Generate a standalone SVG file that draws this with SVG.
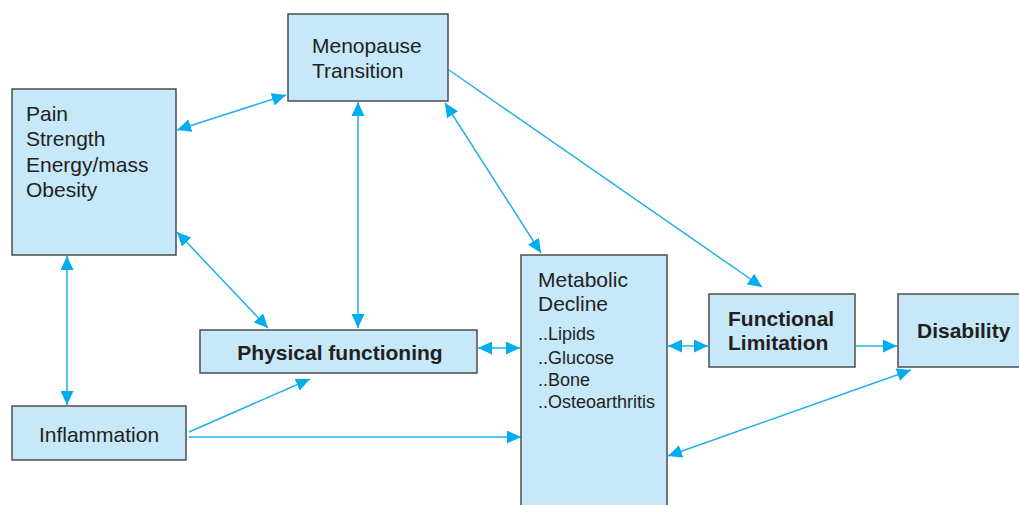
<svg xmlns="http://www.w3.org/2000/svg" width="1019" height="505" viewBox="0 0 1019 505">
<style>
.box{fill:#c6e8f8;stroke:#4d4d4f;stroke-width:1.5}
.t{font-family:"Liberation Sans",Arial,sans-serif;font-size:21px;fill:#231f20}
.s{font-size:18px}
.b{font-weight:bold}
.c{stroke:#1fb0ea;stroke-width:1.5;fill:none}
</style>
<defs>
<marker id="ah" markerUnits="userSpaceOnUse" markerWidth="14" markerHeight="13" refX="14" refY="6.5" orient="auto-start-reverse">
<path d="M0,0 L14,6.5 L0,13 Z" fill="#00adef"/>
</marker>
</defs>
<rect width="1019" height="505" fill="#ffffff"/>
<g id="connectors">
<line class="c" x1="177" y1="130" x2="286" y2="95" marker-start="url(#ah)" marker-end="url(#ah)"/>
<line class="c" x1="358" y1="102" x2="358" y2="328" marker-start="url(#ah)" marker-end="url(#ah)"/>
<line class="c" x1="445" y1="103" x2="541" y2="253" marker-start="url(#ah)" marker-end="url(#ah)"/>
<line class="c" x1="449" y1="70" x2="762" y2="287" marker-end="url(#ah)"/>
<line class="c" x1="177" y1="232" x2="268" y2="328" marker-start="url(#ah)" marker-end="url(#ah)"/>
<line class="c" x1="67" y1="256" x2="67" y2="405" marker-start="url(#ah)" marker-end="url(#ah)"/>
<line class="c" x1="189" y1="432" x2="310" y2="379" marker-end="url(#ah)"/>
<line class="c" x1="189" y1="437" x2="521" y2="437" marker-end="url(#ah)"/>
<line class="c" x1="478" y1="348" x2="520" y2="348" marker-start="url(#ah)" marker-end="url(#ah)"/>
<line class="c" x1="668" y1="346" x2="708" y2="346" marker-start="url(#ah)" marker-end="url(#ah)"/>
<line class="c" x1="856" y1="346" x2="897" y2="346" marker-end="url(#ah)"/>
<line class="c" x1="911" y1="370" x2="668" y2="456" marker-start="url(#ah)" marker-end="url(#ah)"/>
</g>
<g id="menopause">
<rect class="box" x="288" y="14" width="160" height="87"/>
<text class="t" x="312" y="53">Menopause</text>
<text class="t" x="312" y="78">Transition</text>
</g>
<g id="pain">
<rect class="box" x="12" y="89" width="164" height="166"/>
<text class="t" x="26" y="121">Pain</text>
<text class="t" x="26" y="146">Strength</text>
<text class="t" x="26" y="172">Energy/mass</text>
<text class="t" x="26" y="197">Obesity</text>
</g>
<g id="physical">
<rect class="box" x="200" y="330" width="277" height="43"/>
<text class="t b" x="340" y="360" text-anchor="middle">Physical functioning</text>
</g>
<g id="inflammation">
<rect class="box" x="12" y="406" width="174" height="54"/>
<text class="t" x="99" y="442" text-anchor="middle">Inflammation</text>
</g>
<g id="metabolic">
<rect class="box" x="521" y="255" width="146" height="260"/>
<text class="t" x="538" y="287">Metabolic</text>
<text class="t" x="538" y="311">Decline</text>
<text class="t s" x="538" y="340">..Lipids</text>
<text class="t s" x="538" y="364">..Glucose</text>
<text class="t s" x="538" y="386">..Bone</text>
<text class="t s" x="538" y="408">..Osteoarthritis</text>
</g>
<g id="functional">
<rect class="box" x="709" y="294" width="146" height="73"/>
<text class="t b" x="728" y="326">Functional</text>
<text class="t b" x="728" y="350">Limitation</text>
</g>
<g id="disability">
<rect class="box" x="898" y="294" width="130" height="73"/>
<text class="t b" x="917" y="338">Disability</text>
</g>
</svg>
